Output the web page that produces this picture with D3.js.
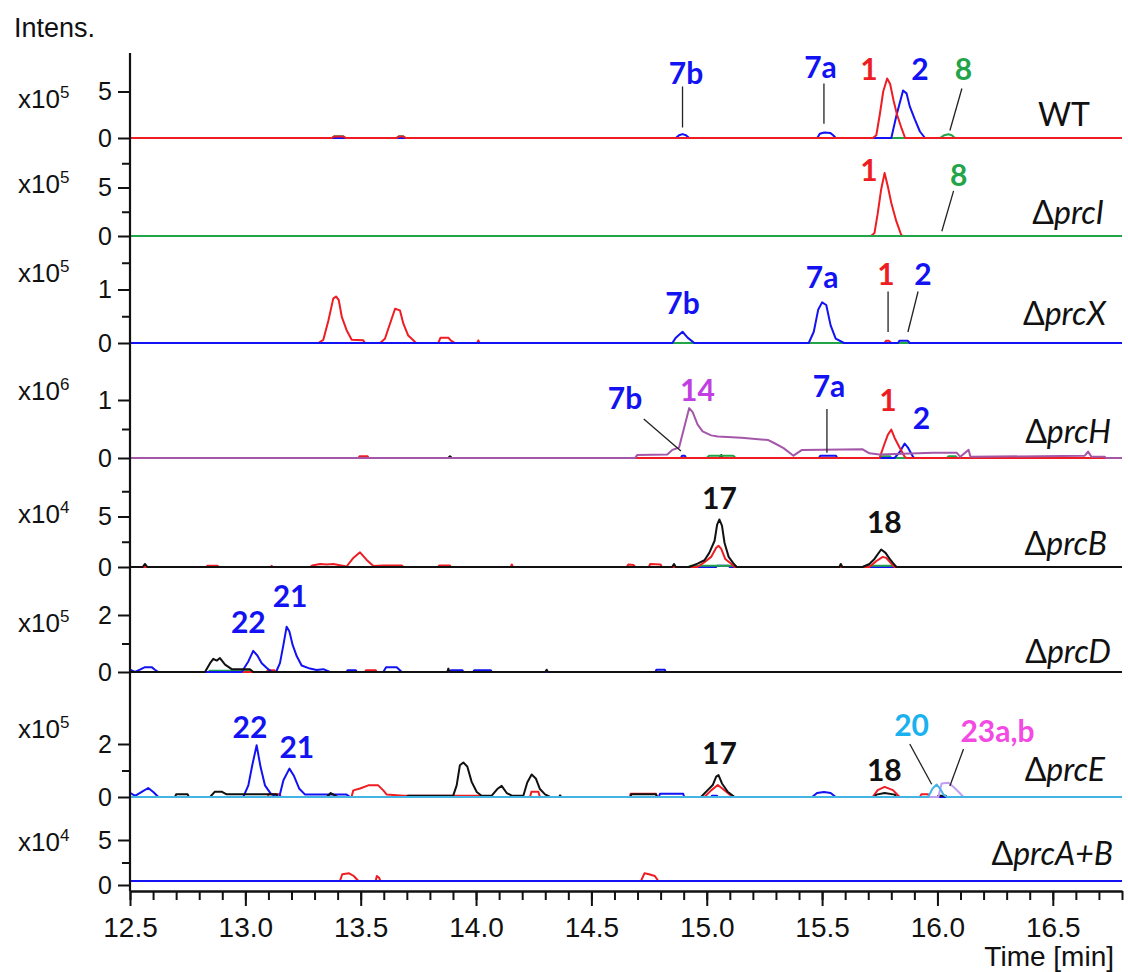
<!DOCTYPE html>
<html>
<head>
<meta charset="utf-8">
<script src="https://cdn.jsdelivr.net/npm/d3@7"></script>
<style>
  body { margin: 0; background: #fff; }
  text { font-family: "Liberation Sans", Arial, sans-serif; fill: #111; }
  .peak { font-family: Lato, "Open Sans", sans-serif; font-weight: bold; font-size: 30px; }
  .strain { font-family: Lato, "Open Sans", sans-serif; font-size: 32px; }
</style>
</head>
<body>
<svg id="chart" width="1128" height="972"></svg>
<script>
// time axis (min)
var timeDomain = [12.5, 16.8];

// panels, top to bottom
var strainNames = ["WT", "prcI", "prcX", "prcH", "prcB", "prcD", "prcE", "prcA+B"];
var intensExponent = [5, 5, 5, 6, 4, 5, 5, 4];
var yTickLabels = [[0, 5], [0, 5], [0, 1], [0, 1], [0, 5], [0, 2], [0, 2], [0, 5]];
var yMinorTicks = [[], [2.5, 7.5], [0.5, 1.5], [0.5], [2.5, 7.5], [1], [1], [2.5]];

// traces: [time, intensity]
var wtGreen = [[12.5,0],[13.375,0],[13.385,0.18],[13.425,0.18],[13.435,0],[13.655,0],[13.665,0.18],[13.685,0.18],[13.695,0],[16.011,0],[16.03,0.3],[16.048,0.4],[16.062,0.3],[16.076,0],[16.8,0]];
var wtBlue = [[12.5,0],[14.866,0],[14.88,0.3],[14.895,0.42],[14.91,0.3],[14.924,0],[15.479,0],[15.49,0.45],[15.51,0.6],[15.535,0.55],[15.548,0.3],[15.559,0],[15.80,0],[15.822,2.4],[15.851,5.1],[15.866,4.8],[15.88,3.4],[15.902,2.0],[15.924,0.7],[15.946,0],[16.8,0]];
var wtRed = [[12.5,0],[13.375,0],[13.385,0.15],[13.425,0.15],[13.435,0],[13.655,0],[13.665,0.15],[13.685,0.15],[13.695,0],[15.72,0],[15.735,0.3],[15.75,2.5],[15.765,5.0],[15.782,6.4],[15.795,5.8],[15.81,4.0],[15.825,2.5],[15.845,1.0],[15.86,0],[16.8,0]];

var prcIRed = [[12.5,0],[15.712,0],[15.727,0.3],[15.741,2.3],[15.756,4.8],[15.771,6.5],[15.785,5.1],[15.80,3.4],[15.822,1.5],[15.843,0.1],[15.851,0],[16.8,0]];
var prcIGreen = [[12.5,0],[16.8,0]];

var prcXRed = [[12.5,0],[13.316,0],[13.338,0.06],[13.36,0.42],[13.381,0.83],[13.393,0.87],[13.405,0.8],[13.418,0.49],[13.439,0.24],[13.461,0.06],[13.511,0.05],[13.518,0],[13.584,0],[13.605,0.08],[13.627,0.36],[13.649,0.64],[13.67,0.61],[13.685,0.36],[13.706,0.14],[13.728,0.05],[13.74,0],[13.836,0],[13.846,0.1],[13.88,0.1],[13.89,0.05],[13.909,0],[14.005,0],[14.01,0.05],[14.015,0],[15.77,0],[15.777,0.04],[15.79,0.04],[15.80,0],[16.8,0]];
var prcXGreen = [[12.5,0],[16.8,0]];
var prcXBlue = [[12.5,0],[14.851,0],[14.866,0.1],[14.895,0.21],[14.917,0.1],[14.946,0],[15.442,0],[15.464,0.21],[15.483,0.62],[15.50,0.76],[15.518,0.71],[15.537,0.33],[15.559,0.08],[15.595,0],[15.829,0],[15.835,0.04],[15.872,0.04],[15.88,0],[16.8,0]];

var prcHBlack = [[12.5,0],[13.88,0],[13.887,0.03],[13.895,0],[15.055,0],[15.063,0.05],[15.07,0],[16.8,0]];
var prcHGreen = [[12.5,0],[15.0,0],[15.01,0.04],[15.115,0.04],[15.125,0],[15.749,0],[15.755,0.03],[15.795,0.03],[15.80,0],[16.041,0],[16.048,0.03],[16.08,0.03],[16.086,0],[16.8,0]];
var prcHBlue = [[12.5,0],[14.888,0],[14.893,0.04],[14.905,0.04],[14.91,0],[15.486,0],[15.492,0.04],[15.56,0.04],[15.566,0],[15.814,0],[15.836,0.1],[15.858,0.25],[15.872,0.18],[15.894,0.02],[15.90,0],[16.8,0]];
var prcHRed = [[12.5,0],[13.49,0],[13.495,0.03],[13.53,0.03],[13.535,0],[15.749,0],[15.771,0.25],[15.785,0.4],[15.80,0.49],[15.814,0.35],[15.836,0.18],[15.858,0.02],[15.866,0],[16.8,0]];
var prcHPurple = [[12.5,0],[14.69,0],[14.698,0.05],[14.829,0.06],[14.851,0.14],[14.88,0.18],[14.902,0.52],[14.924,0.86],[14.939,0.79],[14.96,0.58],[14.982,0.46],[15.019,0.39],[15.048,0.37],[15.15,0.35],[15.267,0.31],[15.296,0.25],[15.333,0.17],[15.376,0.04],[15.413,0.14],[15.676,0.15],[15.705,0.08],[15.749,0.06],[15.982,0.09],[16.084,0.09],[16.099,0.02],[16.135,0.14],[16.143,0.02],[16.639,0.04],[16.653,0.11],[16.668,0.02],[16.726,0.02],[16.73,0],[16.8,0]];

var prcBBlue = [[12.5,0],[15.04,0],[15.045,0.12],[15.095,0.12],[15.1,0],[16.8,0]];
var prcBGreen = [[12.5,0],[14.92,0],[14.93,0.12],[15.125,0.12],[15.13,0],[15.676,0],[15.69,0.12],[15.815,0.12],[15.822,0],[16.8,0]];
var prcBRed = [[12.5,0],[12.832,0],[12.835,0.12],[12.88,0.12],[12.883,0],[13.11,0],[13.114,0.12],[13.118,0],[13.28,0],[13.29,0.15],[13.324,0.3],[13.353,0.25],[13.381,0.3],[13.439,0.05],[13.468,0.9],[13.497,1.45],[13.526,0.7],[13.555,0.1],[13.598,0.15],[13.678,0.15],[13.685,0],[13.836,0],[13.84,0.15],[13.887,0.15],[13.89,0],[14.15,0],[14.155,0.25],[14.16,0],[14.653,0],[14.66,0.25],[14.682,0.2],[14.69,0],[14.749,0],[14.755,0.3],[14.8,0.25],[14.805,0],[14.96,0],[14.99,0.47],[15.019,1.0],[15.041,1.9],[15.051,2.1],[15.063,1.8],[15.08,0.8],[15.106,0.33],[15.121,0],[15.705,0],[15.734,0.57],[15.763,1.0],[15.778,0.9],[15.80,0.33],[15.814,0],[16.8,0]];
var prcBBlack = [[12.5,0],[12.555,0],[12.565,0.3],[12.575,0],[14.85,0],[14.858,0.3],[14.866,0],[14.924,0],[14.96,0.33],[14.99,0.67],[15.011,1.4],[15.034,2.6],[15.045,4.2],[15.055,4.7],[15.066,4.1],[15.077,2.4],[15.095,1.0],[15.114,0.4],[15.129,0],[15.575,0],[15.581,0.3],[15.588,0],[15.676,0],[15.705,0.3],[15.727,0.8],[15.756,1.73],[15.775,1.4],[15.793,0.8],[15.807,0.4],[15.822,0],[16.8,0]];

var prcDGreen = [[12.5,0],[12.84,0],[12.845,0.04],[13.025,0.04],[13.03,0],[16.8,0]];
var prcDRed = [[12.5,0],[13.093,0],[13.097,0.06],[13.126,0.06],[13.13,0],[13.519,0],[13.523,0.06],[13.565,0.06],[13.569,0],[16.8,0]];
var prcDBlue = [[12.5,0.08],[12.522,0],[12.543,0.08],[12.565,0.17],[12.594,0.17],[12.608,0.08],[12.623,0],[12.984,0],[13.013,0.37],[13.034,0.74],[13.052,0.58],[13.071,0.31],[13.093,0.14],[13.114,0],[13.133,0],[13.15,0.31],[13.165,0.95],[13.179,1.59],[13.191,1.42],[13.205,0.95],[13.223,0.55],[13.244,0.23],[13.28,0.12],[13.309,0.07],[13.338,0.1],[13.367,0],[13.439,0],[13.443,0.06],[13.479,0.06],[13.483,0],[13.598,0],[13.61,0.17],[13.656,0.17],[13.678,0],[13.887,0],[13.891,0.06],[13.941,0.06],[13.945,0],[13.988,0],[13.992,0.06],[14.064,0.06],[14.068,0],[14.778,0],[14.782,0.08],[14.818,0.08],[14.822,0],[16.8,0]];
var prcDBlack = [[12.5,0],[12.825,0],[12.847,0.31],[12.861,0.46],[12.876,0.4],[12.89,0.49],[12.912,0.26],[12.941,0.1],[13.02,0.1],[13.034,0],[13.875,0],[13.88,0.12],[13.885,0],[14.3,0],[14.306,0.08],[14.312,0],[16.8,0]];

var prcERed = [[12.5,0],[13.097,0],[13.1,0.1],[13.15,0.1],[13.153,0],[13.46,0],[13.468,0.25],[13.497,0.32],[13.533,0.44],[13.576,0.44],[13.598,0.25],[13.613,0.09],[13.685,0.05],[14.02,0.05],[14.025,0],[14.234,0],[14.24,0.2],[14.27,0.2],[14.277,0],[14.667,0],[14.67,0.12],[14.78,0.12],[14.785,0],[14.99,0],[15.019,0.25],[15.048,0.45],[15.07,0.3],[15.099,0.1],[15.114,0],[15.719,0],[15.741,0.26],[15.771,0.38],[15.807,0.26],[15.836,0],[15.924,0],[15.93,0.1],[15.96,0.1],[15.965,0],[16.8,0]];
var prcEBlue = [[12.5,0.16],[12.522,0.04],[12.551,0.19],[12.579,0.34],[12.601,0.19],[12.623,0],[12.991,0],[13.013,0.44],[13.03,1.2],[13.049,1.95],[13.066,1.13],[13.085,0.44],[13.11,0.13],[13.136,0],[13.147,0],[13.165,0.63],[13.191,1.07],[13.211,0.79],[13.234,0.31],[13.259,0.09],[13.439,0.09],[13.454,0],[14.793,0],[14.797,0.12],[14.898,0.12],[14.902,0],[15.019,0],[15.023,0.05],[15.044,0.05],[15.048,0],[15.457,0],[15.478,0.15],[15.508,0.19],[15.537,0.15],[15.559,0],[16.8,0]];
var prcEBlack = [[12.5,0],[12.695,0],[12.7,0.1],[12.75,0.1],[12.755,0],[12.847,0],[12.868,0.2],[12.897,0.2],[12.919,0.1],[13.136,0.1],[13.14,0],[13.353,0],[13.37,0.15],[13.39,0.05],[13.40,0],[13.699,0],[13.705,0.05],[13.901,0.05],[13.916,0.44],[13.93,1.2],[13.945,1.3],[13.962,1.15],[13.981,0.57],[14.003,0.19],[14.024,0.05],[14.068,0.05],[14.092,0.3],[14.111,0.42],[14.133,0.15],[14.155,0.05],[14.205,0.05],[14.222,0.55],[14.241,0.85],[14.259,0.7],[14.277,0.3],[14.299,0.1],[14.321,0],[14.36,0],[14.364,0.06],[14.37,0],[14.669,0],[14.673,0.1],[14.78,0.1],[14.785,0],[14.975,0],[15.004,0.26],[15.026,0.45],[15.041,0.77],[15.051,0.83],[15.066,0.51],[15.092,0.19],[15.121,0],[15.727,0],[15.735,0.09],[15.771,0.15],[15.815,0.09],[15.822,0],[16.0,0],[16.004,0.05],[16.036,0.05],[16.04,0],[16.8,0]];
var prcELavender = [[12.5,0],[16.004,0],[16.018,0.51],[16.048,0.54],[16.07,0.38],[16.092,0.19],[16.113,0],[16.8,0]];
var prcECyan = [[12.5,0],[15.96,0],[15.979,0.32],[15.997,0.47],[16.011,0.32],[16.026,0.09],[16.041,0],[16.8,0]];

var prcABRed = [[12.5,0.45],[13.41,0.45],[13.42,1.2],[13.45,1.3],[13.47,1.0],[13.49,0.45],[13.565,0.45],[13.57,1.0],[13.58,0.8],[13.585,0.45],[14.715,0.45],[14.73,1.3],[14.75,1.2],[14.775,1.0],[14.79,0.45],[16.8,0.45]];
var prcABBlue = [[12.5,0.45],[16.8,0.45]];

// drawing order per panel (last one on top)
var traces = [
  [0, "green", wtGreen], [0, "blue", wtBlue], [0, "red", wtRed],
  [1, "red", prcIRed], [1, "green", prcIGreen],
  [2, "red", prcXRed], [2, "green", prcXGreen], [2, "blue", prcXBlue],
  [3, "black", prcHBlack], [3, "green", prcHGreen], [3, "blue", prcHBlue], [3, "red", prcHRed], [3, "purple", prcHPurple],
  [4, "blue", prcBBlue], [4, "green", prcBGreen], [4, "red", prcBRed], [4, "black", prcBBlack],
  [5, "green", prcDGreen], [5, "red", prcDRed], [5, "blue", prcDBlue], [5, "black", prcDBlack],
  [6, "red", prcERed], [6, "blue", prcEBlue], [6, "black", prcEBlack], [6, "lavender", prcELavender], [6, "cyan", prcECyan],
  [7, "red", prcABRed], [7, "blue", prcABBlue]
];

// compound labels: panel, text, colour, [time, intensity], optional leader line
var peakLabels = [
  [0, "7b", "blue", [14.91, 5.86], [[14.895, 5.54], [14.895, 1.13]]],
  [0, "7a", "blue", [15.493, 6.4], [[15.508, 5.86], [15.508, 1.52]]],
  [0, "1", "red", [15.703, 6.23]],
  [0, "2", "blue", [15.924, 6.23]],
  [0, "8", "green", [16.113, 6.23], [[16.106, 5.32], [16.054, 0.81]]],
  [1, "1", "red", [15.703, 5.69]],
  [1, "8", "green", [16.092, 5.18], [[16.07, 4.65], [16.019, 0.49]]],
  [2, "7b", "blue", [14.895, 0.551]],
  [2, "7a", "blue", [15.5, 1.024]],
  [2, "1", "red", [15.777, 1.086], [[15.786, 0.963], [15.786, 0.206]]],
  [2, "2", "blue", [15.937, 1.093], [[15.916, 0.963], [15.872, 0.206]]],
  [3, "7b", "blue", [14.646, 0.845], [[14.727, 0.672], [14.888, 0.121]]],
  [3, "14", "label14", [14.96, 0.991]],
  [3, "7a", "blue", [15.53, 1.052], [[15.521, 0.845], [15.521, 0.091]]],
  [3, "1", "red", [15.786, 0.817]],
  [3, "2", "blue", [15.931, 0.5]],
  [4, "17", "black", [15.055, 5.73]],
  [4, "18", "black", [15.77, 3.4]],
  [5, "22", "blue", [13.013, 1.36]],
  [5, "21", "blue", [13.194, 2.29]],
  [6, "22", "blue", [13.02, 2.215]],
  [6, "21", "blue", [13.223, 1.46]],
  [6, "17", "black", [15.055, 1.245]],
  [6, "18", "black", [15.77, 0.604]],
  [6, "20", "label20", [15.888, 2.32], [[15.88, 2.0], [15.975, 0.479]]],
  [6, "23a,b", "label23", [16.26, 2.07], [[16.113, 1.81], [16.054, 0.415]]]
];

// layout
var panelZeroY = [138, 236, 343, 458, 567, 672, 797, 885];
var panelRefY = [91.5, 187.5, 289.5, 400, 516.5, 615, 744, 840];
var expLabelY = [108, 193, 282, 400, 523, 632, 738, 851];
var strainLabelY = [126, 224, 325, 443, 555, 663, 781, 865];
var strainLabelX = [1090, 1104, 1106, 1111, 1107, 1111, 1105, 1113];

var colors = {
  red: "#ee1d23", blue: "#1212f2", green: "#22a449", black: "#111111",
  purple: "#a457a8", cyan: "#43b5e5", lavender: "#c29ef0",
  label14: "#c03ee2", label20: "#19b2ee", label23: "#f24ae2"
};

var svg = d3.select("#chart");
var x = d3.scaleLinear().domain(timeDomain).range([130, 1122]);
var axisY = 891;

var yScales = strainNames.map(function (s, i) {
  return d3.scaleLinear()
    .domain([0, yTickLabels[i][1]])
    .range([panelZeroY[i], panelRefY[i]]);
});

// traces
var plot = svg.append("g").attr("class", "traces");
traces.forEach(function (tr) {
  var y = yScales[tr[0]];
  var line = d3.line()
    .x(function (d) { return x(d[0]); })
    .y(function (d) { return y(d[1]); });
  plot.append("path")
    .datum(tr[2])
    .attr("d", line)
    .attr("fill", "none")
    .attr("stroke", colors[tr[1]])
    .attr("stroke-width", 2)
    .attr("stroke-linejoin", "round");
});

// y axes of each panel
strainNames.forEach(function (s, i) {
  var y = yScales[i];
  var minor = svg.append("g")
    .attr("transform", "translate(130,0)")
    .call(d3.axisLeft(y).tickValues(yMinorTicks[i]).tickSize(8).tickFormat(""));
  minor.select(".domain").remove();
  var major = svg.append("g")
    .attr("transform", "translate(130,0)")
    .call(d3.axisLeft(y).tickValues(yTickLabels[i]).tickSize(12).tickPadding(6).tickFormat(d3.format("d")));
  major.select(".domain").remove();
  major.selectAll("text")
    .style("font-family", "'Liberation Sans', Arial, sans-serif")
    .style("font-size", "25px")
    .attr("fill", "#111");
  svg.selectAll(".tick line").attr("stroke", "#111").attr("stroke-width", 2);

  var ex = svg.append("text")
    .attr("x", 18)
    .attr("y", expLabelY[i])
    .style("font-size", "26px");
  ex.append("tspan").text("x10");
  ex.append("tspan").attr("dy", -10).style("font-size", "17px").text(intensExponent[i]);

  var lab = svg.append("text")
    .attr("class", "strain")
    .attr("x", strainLabelX[i])
    .attr("y", strainLabelY[i])
    .attr("text-anchor", "end");
  if (s === "WT") {
    lab.text(s);
  } else {
    lab.append("tspan").text("\u0394");
    lab.append("tspan").style("font-style", "italic").text(s);
  }
});

// vertical axis line
svg.append("line")
  .attr("x1", 130).attr("x2", 130)
  .attr("y1", 53).attr("y2", axisY)
  .attr("stroke", "#111").attr("stroke-width", 2.2);

// time axis
var minorTimes = d3.range(125, 169).map(function (d) { return d / 10; });
var majorTimes = d3.range(25, 34).map(function (d) { return d / 2; });
var xMinor = svg.append("g")
  .attr("transform", "translate(0," + axisY + ")")
  .call(d3.axisBottom(x).tickValues(minorTimes).tickSize(9).tickSizeOuter(0).tickFormat(""));
xMinor.select(".domain").remove();
var xMajor = svg.append("g")
  .attr("transform", "translate(0," + axisY + ")")
  .call(d3.axisBottom(x).tickValues(majorTimes).tickSize(15).tickSizeOuter(0).tickPadding(11).tickFormat(d3.format(".1f")));
xMajor.select(".domain").attr("stroke", "#111").attr("stroke-width", 2.5);
svg.selectAll(".tick line").attr("stroke", "#111").attr("stroke-width", 2);
xMajor.selectAll("text")
  .style("font-family", "'Liberation Sans', Arial, sans-serif")
  .style("font-size", "28px")
  .attr("fill", "#111");

svg.append("text")
  .attr("x", 1114).attr("y", 966)
  .attr("text-anchor", "end")
  .style("font-size", "28px")
  .text("Time [min]");

svg.append("text")
  .attr("x", 14).attr("y", 37)
  .style("font-size", "27px")
  .text("Intens.");

// peak labels and leader lines
peakLabels.forEach(function (pl) {
  var y = yScales[pl[0]];
  if (pl[4]) {
    svg.append("line")
      .attr("x1", x(pl[4][0][0])).attr("y1", y(pl[4][0][1]))
      .attr("x2", x(pl[4][1][0])).attr("y2", y(pl[4][1][1]))
      .attr("stroke", "#222").attr("stroke-width", 1.3);
  }
  svg.append("text")
    .attr("class", "peak")
    .attr("x", x(pl[3][0]))
    .attr("y", y(pl[3][1]))
    .attr("text-anchor", "middle")
    .style("fill", colors[pl[2]])
    .text(pl[1]);
});
</script>
</body>
</html>
